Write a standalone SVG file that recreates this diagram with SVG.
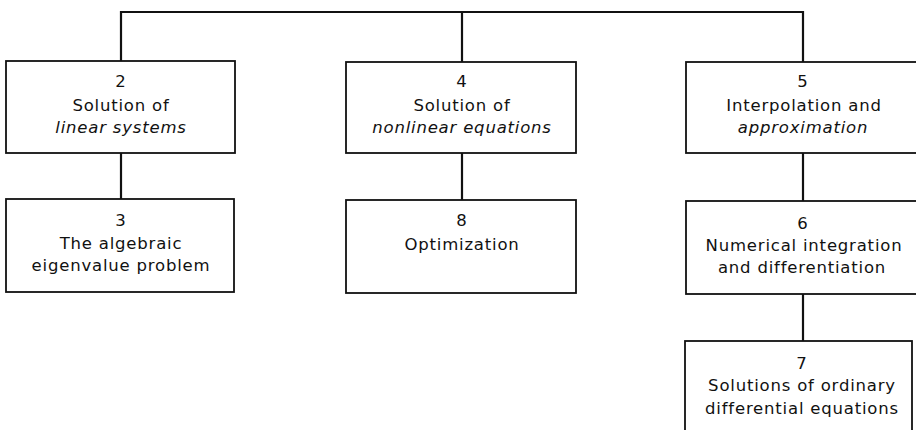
<svg xmlns="http://www.w3.org/2000/svg" width="916" height="430" viewBox="0 0 916 430">
  <style>
    .box { fill: #ffffff; stroke: #111111; stroke-width: 1.8; }
    .wire { fill: none; stroke: #111111; stroke-width: 2.2; }
    text { font-family: "DejaVu Sans", "Liberation Sans", sans-serif; font-size: 16.5px; letter-spacing: 0.8px; fill: #111111; text-anchor: middle; }
    .it { font-style: italic; }
  </style>
  <rect width="916" height="430" fill="#ffffff"/>

  <!-- connectors -->
  <g id="connectors">
    <path class="wire" d="M121,61 V12 H803 V62"/>
    <path class="wire" d="M462,12 V62"/>
    <path class="wire" d="M121,153 V199"/>
    <path class="wire" d="M462,153 V200"/>
    <path class="wire" d="M803,153 V201"/>
    <path class="wire" d="M803,294 V341"/>
  </g>

  <!-- chapter boxes -->
  <g id="ch2">
    <rect class="box" x="6" y="61" width="229" height="92"/>
    <text x="121" y="87">2</text>
    <text x="121" y="111">Solution of</text>
    <text x="121" y="133" class="it">linear systems</text>
  </g>
  <g id="ch3">
    <rect class="box" x="6" y="199" width="228" height="93"/>
    <text x="121" y="226">3</text>
    <text x="121" y="249">The algebraic</text>
    <text x="121" y="271">eigenvalue problem</text>
  </g>
  <g id="ch4">
    <rect class="box" x="346" y="62" width="230" height="91"/>
    <text x="462" y="87">4</text>
    <text x="462" y="111">Solution of</text>
    <text x="462" y="133" class="it">nonlinear equations</text>
  </g>
  <g id="ch8">
    <rect class="box" x="346" y="200" width="230" height="93"/>
    <text x="462" y="226">8</text>
    <text x="462" y="250">Optimization</text>
  </g>
  <g id="ch5">
    <rect class="box" x="686" y="62" width="240" height="91"/>
    <text x="803" y="87">5</text>
    <text x="804" y="111">Interpolation and</text>
    <text x="803" y="133" class="it">approximation</text>
  </g>
  <g id="ch6">
    <rect class="box" x="686" y="201" width="240" height="93"/>
    <text x="803" y="229">6</text>
    <text x="804" y="251">Numerical integration</text>
    <text x="802" y="273">and differentiation</text>
  </g>
  <g id="ch7">
    <rect class="box" x="685" y="341" width="227" height="100"/>
    <text x="802" y="369">7</text>
    <text x="802" y="391">Solutions of ordinary</text>
    <text x="802" y="414">differential equations</text>
  </g>
</svg>
